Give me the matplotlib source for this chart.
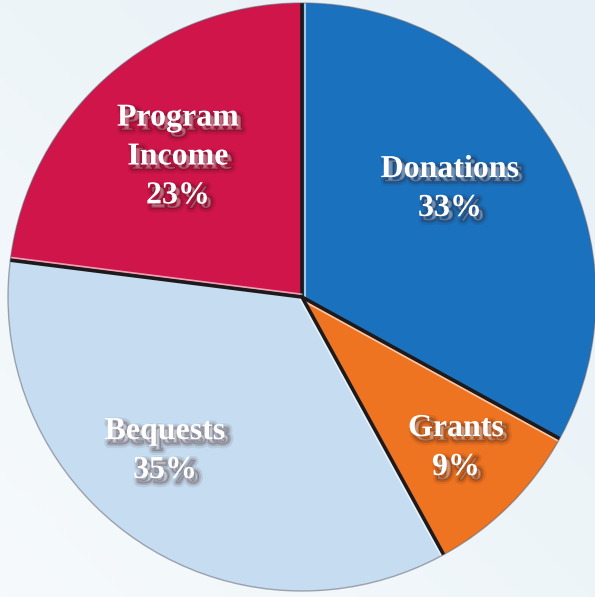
import matplotlib
matplotlib.use("Agg")
import matplotlib.pyplot as plt
import matplotlib.patheffects as pe
import numpy as np

categories = ["Donations", "Grants", "Bequests", "Program\nIncome"]
values = [33, 9, 35, 23]
colors = ["#1a72bf", "#ee7421", "#c6dcf0", "#d0154a"]
label_pos = [(450, 408), (456, 149), (165, 146), (178, 440)]

fig = plt.figure(figsize=(5.95, 5.97), dpi=100)
fig.patch.set_facecolor("#eef5f9")
ax = fig.add_axes([0, 0, 1, 1])
ax.set_xlim(0, 595)
ax.set_ylim(0, 597)
ax.set_aspect("equal")
ax.axis("off")

# subtle background gradient
gy, gx = np.mgrid[0:1:100j, 0:1:100j]
bg = 0.5 * gx + 0.5 * (1 - gy)
ax.imshow(bg, extent=(0, 595, 0, 597), cmap=matplotlib.colors.LinearSegmentedColormap.from_list(
    "bg", ["#f6fafc", "#e6f0f6"]), origin="upper", zorder=0, aspect="auto")

cx, cy, R = 302, 300, 294
wedges, _ = ax.pie(values, colors=colors, startangle=90, counterclock=False,
                   center=(cx, cy), radius=R,
                   wedgeprops=dict(edgecolor="none", linewidth=0))
for w in wedges:
    w.set_zorder(2)

# separator lines between slices (dark line with light highlight)
for w in wedges:
    t = np.deg2rad(w.theta2)
    xs = [cx, cx + R * np.cos(t)]
    ys = [cy, cy + R * np.sin(t)]
    ax.plot([x + 2.5 * np.sin(t) for x in xs], [y - 2.5 * np.cos(t) for y in ys],
            color="white", lw=1.5, alpha=0.6, zorder=3, solid_capstyle="butt")
    ax.plot(xs, ys, color="#1e1a1c", lw=2.6, zorder=3, solid_capstyle="butt")

# soft outer rim
rim = plt.Circle((cx, cy), R, fill=False, edgecolor="#5a5a66", lw=1.0, alpha=0.5, zorder=3)
ax.add_patch(rim)

ax.set_xlim(0, 595)
ax.set_ylim(0, 597)

shadow = [pe.Stroke(linewidth=7, foreground="#2a0a0a", alpha=0.08, offset=(3, -3)),
          pe.Stroke(linewidth=4, foreground="#2a0a0a", alpha=0.14, offset=(3, -3)),
          pe.Stroke(linewidth=1.5, foreground="#2a0a0a", alpha=0.22, offset=(3, -3)),
          pe.Normal()]
for cat, v, (x, y) in zip(categories, values, label_pos):
    ax.text(x, y, f"{cat}\n{v}%", ha="center", va="center", color="white",
            fontsize=23, fontweight="bold", family="Liberation Serif",
            linespacing=1.45, path_effects=shadow, zorder=5)

fig.savefig("out.png", dpi=100, facecolor=fig.get_facecolor())
